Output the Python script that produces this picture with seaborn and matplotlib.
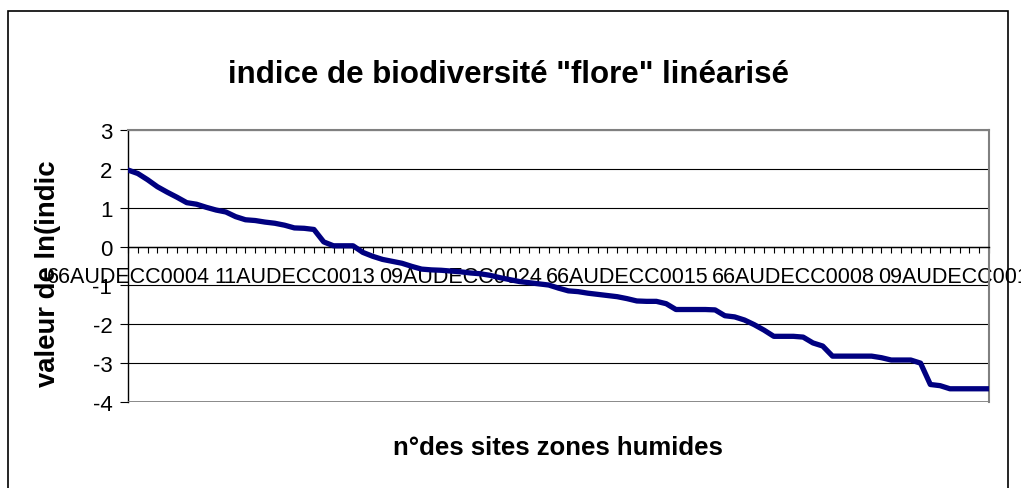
import numpy as np
import seaborn as sns
import matplotlib.pyplot as plt
from matplotlib.patches import Rectangle

# ln(indice) per site, sorted in decreasing order
ln_indice = [1.97, 1.88, 1.72, 1.54, 1.40, 1.27, 1.13, 1.09, 1.01, 0.94,
             0.89, 0.77, 0.69, 0.67, 0.63, 0.60, 0.55, 0.48, 0.47, 0.44,
             0.12, 0.02, 0.02, 0.02, -0.15, -0.25, -0.33, -0.38, -0.43, -0.51,
             -0.58, -0.60, -0.61, -0.63, -0.65, -0.68, -0.70, -0.74, -0.80, -0.85,
             -0.90, -0.93, -0.96, -0.99, -1.07, -1.14, -1.16, -1.20, -1.23, -1.26,
             -1.29, -1.34, -1.40, -1.41, -1.41, -1.47, -1.62, -1.62, -1.62, -1.62,
             -1.63, -1.78, -1.81, -1.89, -2.01, -2.15, -2.31, -2.31, -2.31, -2.33,
             -2.48, -2.56, -2.82, -2.82, -2.82, -2.82, -2.82, -2.86, -2.92, -2.92,
             -2.92, -3.00, -3.55, -3.58, -3.66, -3.66, -3.66, -3.66, -3.66]

site_labels = ["66AUDECC0004", "11AUDECC0013", "09AUDECC0024",
               "66AUDECC0015", "66AUDECC0008", "09AUDECC0010"]
label_step = 17
y_ticks = [3, 2, 1, 0, -1, -2, -3, -4]

title = 'indice de biodiversité "flore" linéarisé'
x_title = "n°des sites zones humides"
y_title = "valeur de ln(indic"

sns.set_style("white")
plt.rcParams["font.family"] = ["Liberation Sans", "DejaVu Sans"]
plt.rcParams["text.color"] = "black"
plt.rcParams["xtick.color"] = "black"
plt.rcParams["ytick.color"] = "black"

fig = plt.figure(figsize=(10.21, 4.89), dpi=100)
ax = fig.add_axes([0.1254, 0.1759, 0.8433, 0.5562])

idx = np.arange(len(ln_indice))
sns.lineplot(x=idx, y=ln_indice, ax=ax, color="#000080", linewidth=3.8,
             solid_capstyle="round", solid_joinstyle="round", zorder=5)

ax.set_xlim(0, len(ln_indice) - 1)
ax.set_ylim(min(y_ticks), max(y_ticks))

# y axis
ax.set_yticks(y_ticks)
ax.set_yticklabels([str(t) for t in y_ticks], fontsize=16)
ax.tick_params(axis="y", direction="out", length=5.8, width=0.8, pad=5.5, left=True)
ax.yaxis.grid(True, color="black", linewidth=0.8)

# x axis crosses at 0, a tick per site, a label every 17 sites
ax.spines["bottom"].set_position(("data", 0))
ax.set_xticks(idx)
xt = ["" for _ in idx]
for k, name in enumerate(site_labels):
    xt[k * label_step] = name
ax.set_xticklabels(xt, fontsize=15.5)
ax.tick_params(axis="x", direction="out", length=4.3, width=0.8, pad=9.5, bottom=True)

for side in ["top", "right"]:
    ax.spines[side].set_color("#808080")
    ax.spines[side].set_linewidth(1.5)
ax.spines["left"].set_color("black")
ax.spines["left"].set_linewidth(1)
ax.spines["bottom"].set_color("black")
ax.spines["bottom"].set_linewidth(1)
ax.axhline(min(y_ticks), color="#808080", linewidth=2, zorder=3)
ax.set_xlabel("")
ax.set_ylabel("")

fig.text(0.4985, 0.830, title, ha="center", va="baseline",
         fontsize=22.5, fontweight="bold")
fig.text(0.546, 0.084, x_title, ha="center", va="center",
         fontsize=18.5, fontweight="bold")
fig.text(0.047, 0.440, y_title, ha="center", va="center", rotation=90,
         fontsize=19.8, fontweight="bold")

# chart area frame
fig.patches.append(Rectangle((0.0078, -0.1), 0.9795, 1.0755, transform=fig.transFigure,
                             fill=False, edgecolor="black", linewidth=1.2))

fig.savefig("out.png", dpi=100)
